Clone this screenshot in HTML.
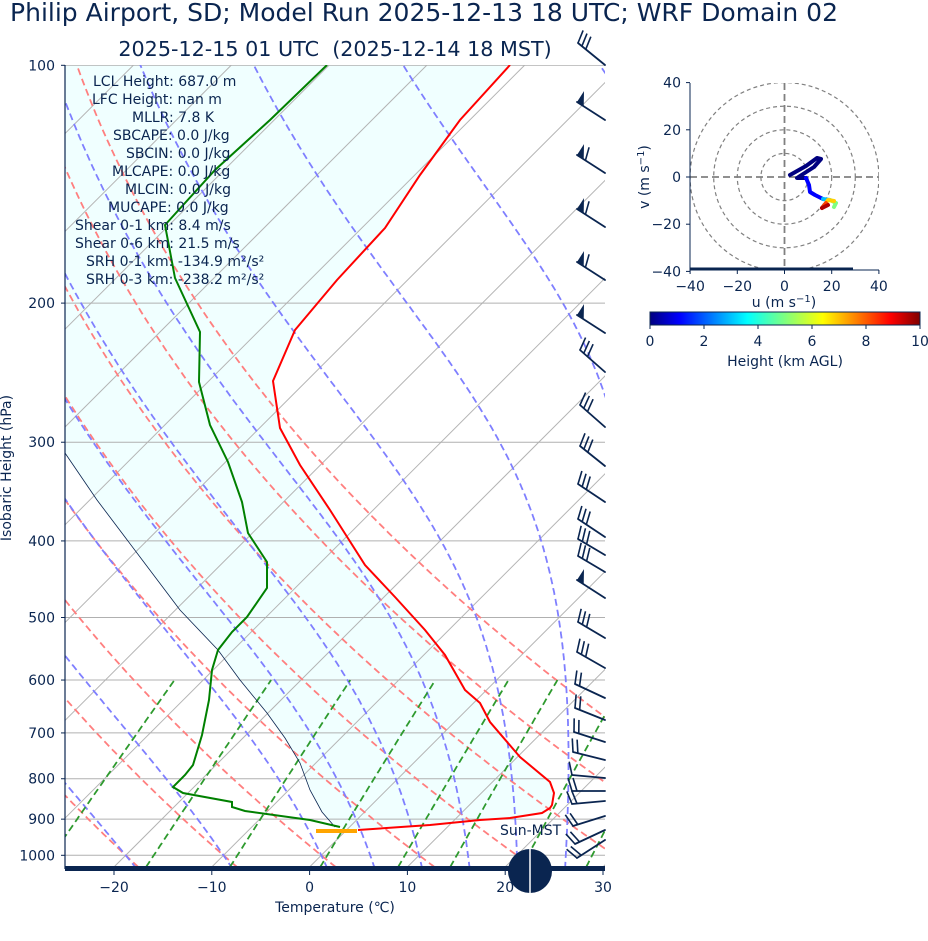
<!DOCTYPE html>
<html><head><meta charset="utf-8">
<style>
html,body{margin:0;padding:0;background:#fff;}
svg text{font-family:"DejaVu Sans","Liberation Sans",sans-serif;fill:#0a2550;}
</style></head>
<body>
<svg id="s" width="928" height="936" xmlns="http://www.w3.org/2000/svg">
<defs>
<clipPath id="cp"><rect x="65" y="65" width="540" height="802"/></clipPath>
<clipPath id="hc"><rect x="690" y="83" width="189" height="187"/></clipPath>
<linearGradient id="jet" x1="0" x2="1" y1="0" y2="0">
<stop offset="0" stop-color="#00007f"/><stop offset="0.11" stop-color="#0000ff"/>
<stop offset="0.36" stop-color="#00ffff"/><stop offset="0.5" stop-color="#7fff7f"/>
<stop offset="0.64" stop-color="#ffff00"/><stop offset="0.89" stop-color="#ff0000"/>
<stop offset="1" stop-color="#7f0000"/></linearGradient>
</defs>
<text x="10" y="21" font-size="25" textLength="828" lengthAdjust="spacingAndGlyphs">Philip Airport, SD; Model Run 2025-12-13 18 UTC; WRF Domain 02</text>
<text x="335" y="56" font-size="20.7" text-anchor="middle" xml:space="preserve">2025-12-15 01 UTC  (2025-12-14 18 MST)</text>
<g id="plot" clip-path="url(#cp)"></g>
<g id="over"></g>
</svg>
<script>
var NS="http://www.w3.org/2000/svg";
function el(parent,tag,attrs,txt){var e=document.createElementNS(NS,tag);for(var k in attrs)e.setAttribute(k,attrs[k]);if(txt!==undefined)e.textContent=txt;parent.appendChild(e);return e;}
var plot=document.getElementById('plot'),over=document.getElementById('over');
var FS=14;
function Y(p){return 855.3-790*Math.log10(1000/p);}
function X(T,y){return 114+(T+20)*9.78+(867-y);}
function pl(pts){return pts.map(function(a){return a[0].toFixed(1)+','+a[1].toFixed(1)}).join(' ');}
var red=[[510,65],[460,120],[420,175],[385,228],[337,280],[295,330],[273,381],[280,428],[300,465],[330,510],[365,565],[395,597],[425,630],[445,655],[465,690],[480,703],[490,722],[520,757],[550,782],[554,793],[552,805],[550,808],[542,813],[510,818],[480,820],[430,825],[358,830]];
var parcel=[[335,827],[322,812],[310,790],[300,763],[285,738],[267,713],[240,680],[218,650],[180,610],[140,557],[97,500],[65,453]];
var fill=red.concat(parcel.slice()).concat([[65,65]]);
el(plot,'polygon',{points:pl(fill),fill:'#f0ffff'});
for(var T=-120;T<=50;T+=10){el(plot,'line',{x1:X(T,867),y1:867,x2:X(T,65),y2:65,stroke:'#b4b4b4','stroke-width':1});}
[100,200,300,400,500,600,700,800,900,1000].forEach(function(p){var y=Y(p);el(plot,'line',{x1:65,x2:605,y1:y,y2:y,stroke:'#b0b0b0','stroke-width':1});});
var pb=1035;
for(var t0=-30;t0<=50;t0+=10){var pts=[];for(var p=pb;p>=95;p-=5){var T=(t0+273.15)*Math.pow(p/1000,0.2857)-273.15;var y=Y(p);pts.push([X(T,y),y]);}
el(plot,'polyline',{points:pl(pts),fill:'none',stroke:'#ff7f7f','stroke-width':1.8,'stroke-dasharray':'7,4'});}
function es(Tc){return 6.112*Math.exp(17.67*Tc/(Tc+243.5));}
function dTdp(p,T){var Tc=T-273.15;var e=es(Tc);var rs=0.622*e/(p-e);return (287.04*T+2.501e6*rs)/(p*(1005.7+2.501e6*2.501e6*rs*0.622/(287.04*T*T)));}
[-50,-40,-30,-20,-10,0,5,10,15,20,25,30,35].forEach(function(t0){
 var up=[],T=t0+273.15,p=1000,h=-2;
 while(p>95){up.push([p,T]);var k1=dTdp(p,T),k2=dTdp(p+h/2,T+h/2*k1),k3=dTdp(p+h/2,T+h/2*k2),k4=dTdp(p+h,T+h*k3);T+=h/6*(k1+2*k2+2*k3+k4);p+=h;}
 var dn=[];T=t0+273.15;p=1000;h=2;
 while(p<1040){var k=dTdp(p,T);T+=h*k;p+=h;dn.push([p,T]);}
 var all=dn.reverse().concat(up);var pts=all.map(function(a){var y=Y(a[0]);return [X(a[1]-273.15,y),y];});
 el(plot,'polyline',{points:pl(pts),fill:'none',stroke:'#7f7fff','stroke-width':1.8,'stroke-dasharray':'7,4'});
});
[0.0004,0.001,0.002,0.004,0.007,0.01,0.016,0.024,0.032].forEach(function(w){var pts=[];for(var p=1035;p>=600;p-=5){var e=p*w/(0.622+w);var l=Math.log(e/6.112);var Td=243.5*l/(17.67-l);var y=Y(p);pts.push([X(Td,y),y]);}
el(plot,'polyline',{points:pl(pts),fill:'none',stroke:'#2e9a2e','stroke-width':1.8,'stroke-dasharray':'7,4'});});
el(plot,'polyline',{points:pl(parcel),fill:'none',stroke:'#0a2550','stroke-width':0.8});
el(plot,'polyline',{points:pl(red),fill:'none',stroke:'#ff0000','stroke-width':2});
var green=[[327,65],[270,120],[215,170],[165,225],[175,278],[200,332],[199,382],[210,425],[228,462],[242,502],[248,533],[267,562],[267,588],[247,617],[232,632],[218,650],[212,670],[209,700],[202,735],[193,765],[185,775],[173,787],[183,793],[232,802],[232,807],[245,811],[310,820],[340,827]];
el(plot,'polyline',{points:pl(green),fill:'none',stroke:'#008000','stroke-width':2});
el(plot,'line',{x1:316,x2:357,y1:831,y2:831,stroke:'#ffa500','stroke-width':4});
var barbs=[[65,-27,-22,0,3],[120,-28,-18,1,0],[173,-28,-18,1,1],[227,-28,-18,1,1],[280,-28,-18,1,1],[333,-28,-18,1,0],[372,-25,-22,0,3],[427,-25,-22,0,3],[466,-25,-20,0,3],[502,-27,-18,0,3],[537,-27,-18,0,3],[555,-27,-16,0,3],[572,-27,-16,0,3],[598,-28,-18,1,0],[638,-27,-16,0,3],[668,-28,-16,0,3],[698,-30,-14,0,2],[720,-30,-12,0,2],[742,-31,-10,0,2],[760,-32,-8,0,2],[778,-33,-3,0,1],[791,-33,0,0,2],[801,-33,3,0,2],[816,-32,10,0,2],[830,-30,14,0,2],[840,-28,18,0,2]];
barbs.forEach(function(b){var bx=605,by=b[0],dx=b[1],dy=b[2];var L=Math.sqrt(dx*dx+dy*dy);var ux=dx/L,uy=dy/L,px=-uy,py=ux;
 var tx=bx+dx,ty=by+dy;
 el(over,'line',{x1:bx,y1:by,x2:tx,y2:ty,stroke:'#0a2550','stroke-width':1.8,'stroke-linecap':'round'});
 var pos=0;
 for(var i=0;i<b[3];i++){var ax=tx-ux*pos,ay=ty-uy*pos,cx=tx-ux*(pos+8),cy=ty-uy*(pos+8);var ex=ax+px*13,ey=ay+py*13;
  el(over,'polygon',{points:pl([[ax,ay],[ex,ey],[cx,cy]]),fill:'#0a2550'});pos+=10;}
 for(var j=0;j<b[4];j++){var ax=tx-ux*pos,ay=ty-uy*pos;el(over,'line',{x1:ax,y1:ay,x2:ax+px*13+ux*4,y2:ay+py*13+uy*4,stroke:'#0a2550','stroke-width':1.6});pos+=5;}
});
el(over,'line',{x1:65,y1:65,x2:65,y2:869,stroke:'#0a2550','stroke-width':1.2});
el(over,'rect',{x:65,y:866,width:540,height:5,fill:'#0a2550'});
[100,200,300,400,500,600,700,800,900,1000].forEach(function(p){var y=Y(p);el(over,'line',{x1:61,x2:65,y1:y,y2:y,stroke:'#0a2550'});el(over,'text',{x:55,y:y+5,'font-size':FS,'text-anchor':'end'},String(p));});
[-20,-10,0,10,20,30].forEach(function(t){var x=114+(t+20)*9.78;el(over,'line',{x1:x,x2:x,y1:870,y2:875,stroke:'#0a2550'});el(over,'text',{x:x,y:892,'font-size':FS,'text-anchor':'middle'},t<0?'\u2212'+(-t):String(t));});
el(over,'text',{x:335,y:912,'font-size':FS,'text-anchor':'middle'},'Temperature (\u2103)');
el(over,'text',{x:11,y:468,'font-size':FS,'text-anchor':'middle',transform:'rotate(-90 11 468)'},'Isobaric Height (hPa)');
var info=[[93,'LCL Height: 687.0 m'],[92,'LFC Height: nan m'],[132,'MLLR: 7.8 K'],[113,'SBCAPE: 0.0 J/kg'],[126,'SBCIN: 0.0 J/kg'],[112,'MLCAPE: 0.0 J/kg'],[125,'MLCIN: 0.0 J/kg'],[108,'MUCAPE: 0.0 J/kg'],[75,'Shear 0-1 km: 8.4 m/s'],[75,'Shear 0-6 km: 21.5 m/s'],[86,'SRH 0-1 km: -134.9 m\u00b2/s\u00b2'],[86,'SRH 0-3 km: -238.2 m\u00b2/s\u00b2']];
info.forEach(function(a,i){el(over,'text',{x:a[0],y:86+18*i,'font-size':FS},a[1]);});
el(over,'text',{x:500,y:835,'font-size':FS},'Sun-MST');
el(over,'circle',{cx:530,cy:871,r:22,fill:'#0a2550'});
el(over,'line',{x1:530,x2:530,y1:849,y2:893,stroke:'#fff','stroke-width':1.5});
var hg=el(over,'g',{});var hcl=el(hg,'g',{'clip-path':'url(#hc)'});
var cx=784.5,cy=177,sc=2.36;
[10,20,30,40].forEach(function(r){el(hcl,'circle',{cx:cx,cy:cy,r:r*sc,fill:'none',stroke:'#808080','stroke-width':1.2,'stroke-dasharray':'4,3'});});
el(hcl,'line',{x1:690,x2:879,y1:cy,y2:cy,stroke:'#808080','stroke-width':1.8,'stroke-dasharray':'7,4'});
el(hcl,'line',{x1:cx,x2:cx,y1:83,y2:270,stroke:'#808080','stroke-width':1.8,'stroke-dasharray':'7,4'});
el(hg,'line',{x1:690,x2:690,y1:83,y2:271,stroke:'#0a2550'});
el(hg,'line',{x1:690,x2:879,y1:270,y2:270,stroke:'#0a2550'});
el(hg,'rect',{x:690,y:267.5,width:163,height:3,fill:'#0a2550'});
var segs=[['#00007f',[[790,175],[806,166],[817,158],[821,159],[814,167],[800,176],[797,178],[806,178]]],['#0000ff',[[806,178],[809,185],[810,192],[815,195],[823,199]]],['#00bfff',[[823,199],[830,200]]],['#7fff7f',[[830,200],[836,203],[834,207]]],['#ffd000',[[834,201],[828,200],[826,203]]],['#ff4000',[[826,203],[822,208]]],['#b00000',[[822,208],[828,205]]]];
segs.forEach(function(s){el(hg,'polyline',{points:pl(s[1]),fill:'none',stroke:s[0],'stroke-width':4,'stroke-linejoin':'round','stroke-linecap':'round'});});
[40,20,0,-20,-40].forEach(function(v){var y=cy-v*sc;el(hg,'line',{x1:686,x2:690,y1:y,y2:y,stroke:'#0a2550'});el(hg,'text',{x:681,y:y+5,'font-size':FS,'text-anchor':'end'},v<0?'\u2212'+(-v):String(v));});
[-40,-20,0,20,40].forEach(function(u){var x=cx+u*sc;el(hg,'line',{x1:x,x2:x,y1:270,y2:274,stroke:'#0a2550'});el(hg,'text',{x:x,y:291,'font-size':FS,'text-anchor':'middle'},u<0?'\u2212'+(-u):String(u));});
var t1=el(hg,'text',{x:784,y:307,'font-size':FS,'text-anchor':'middle'});t1.innerHTML='u (m s<tspan font-size="10" dy="-5">\u22121</tspan><tspan dy="5">)</tspan>';
var t2=el(hg,'text',{x:649,y:177,'font-size':FS,'text-anchor':'middle',transform:'rotate(-90 649 177)'});t2.innerHTML='v (m s<tspan font-size="10" dy="-5">\u22121</tspan><tspan dy="5">)</tspan>';
el(hg,'rect',{x:650,y:312,width:270,height:13,fill:'url(#jet)',stroke:'#0a2550','stroke-width':1});
[0,2,4,6,8,10].forEach(function(v,i){var x=650+i*54;el(hg,'line',{x1:x,x2:x,y1:325,y2:329,stroke:'#0a2550'});el(hg,'text',{x:x,y:346,'font-size':FS,'text-anchor':'middle'},String(v));});
el(hg,'text',{x:785,y:366,'font-size':FS,'text-anchor':'middle'},'Height (km AGL)');
</script>
</body></html>
